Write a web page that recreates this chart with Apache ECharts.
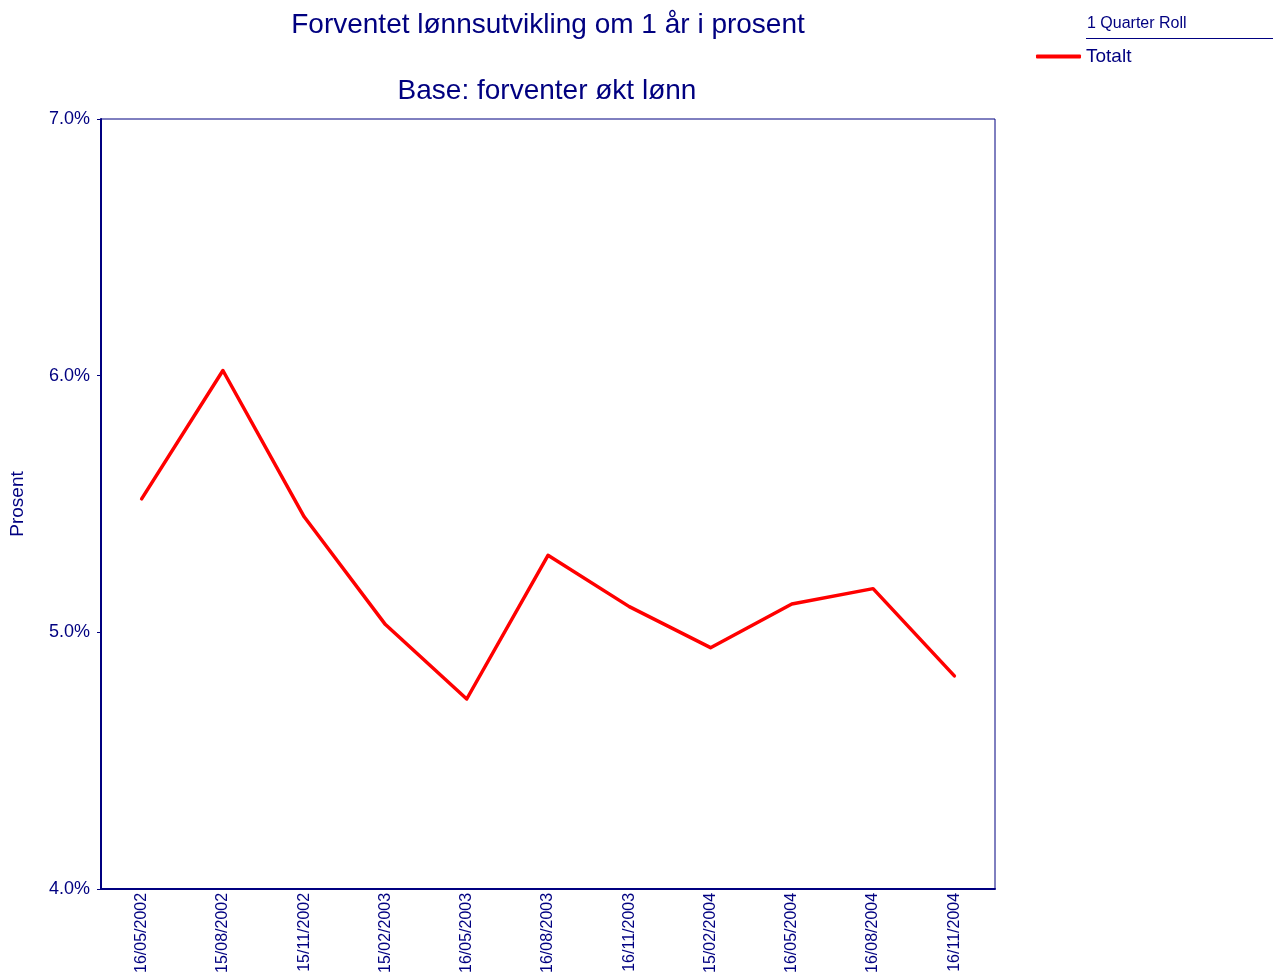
<!DOCTYPE html>
<html>
<head>
<meta charset="utf-8">
<title>Forventet lønnsutvikling</title>
<script src="https://cdn.jsdelivr.net/npm/echarts@6/dist/echarts.min.js"></script>
<style>
  html, body { margin: 0; padding: 0; background: #ffffff; }
  #chart { width: 1273px; height: 976px; }
</style>
</head>
<body>
<div id="chart"></div>
<script>
// Survey dates (quarterly waves)
const dates = [
  '16/05/2002', '15/08/2002', '15/11/2002', '15/02/2003', '16/05/2003',
  '16/08/2003', '16/11/2003', '15/02/2004', '16/05/2004', '16/08/2004', '16/11/2004'
];

// Expected wage growth, percent (Totalt)
const totalt = [5.52, 6.02, 5.45, 5.03, 4.74, 5.30, 5.10, 4.94, 5.11, 5.17, 4.83];

const titleText = 'Forventet lønnsutvikling om 1 år i prosent';
const subtitleText = 'Base: forventer økt lønn';
const seriesName = 'Totalt';
const legendHeader = '1 Quarter Roll';

const navy = '#000080';
const font = '"Liberation Sans", Arial, sans-serif';

const chart = echarts.init(document.getElementById('chart'), null, { renderer: 'canvas' });

chart.setOption({
  backgroundColor: '#ffffff',
  animation: false,
  title: [
    {
      text: titleText,
      left: 543, top: 6, textAlign: 'center',
      textStyle: { color: navy, fontFamily: font, fontSize: 28, fontWeight: 'normal' }
    },
    {
      text: subtitleText,
      left: 542, top: 72, textAlign: 'center',
      textStyle: { color: navy, fontFamily: font, fontSize: 28, fontWeight: 'normal' }
    }
  ],
  legend: {
    left: 1031, top: 42,
    orient: 'vertical',
    icon: 'roundRect',
    itemWidth: 45, itemHeight: 4,
    data: [seriesName],
    textStyle: { color: navy, fontFamily: font, fontSize: 19 }
  },
  graphic: [
    {
      type: 'text', left: 1087, top: 16,
      style: { text: legendHeader, fill: navy, font: '16px ' + font }
    },
    {
      type: 'line',
      shape: { x1: 1086, y1: 38.5, x2: 1273, y2: 38.5 },
      style: { stroke: navy, lineWidth: 1 }
    }
  ],
  grid: {
    left: 101, top: 119, right: 278, bottom: 87,
    show: true, borderColor: navy, borderWidth: 1,
    containLabel: false
  },
  xAxis: {
    type: 'category',
    data: dates,
    boundaryGap: true,
    axisLine: { lineStyle: { color: navy, width: 2 } },
    axisTick: { alignWithLabel: true, length: 5, lineStyle: { color: navy, width: 1 } },
    axisLabel: {
      rotate: 90, interval: 0, margin: 4,
      color: navy, fontFamily: font, fontSize: 16
    },
    splitLine: { show: false }
  },
  yAxis: {
    type: 'value',
    min: 4, max: 7, interval: 1,
    name: 'Prosent',
    nameLocation: 'middle',
    nameGap: 74,
    nameRotate: 90,
    nameTextStyle: { color: navy, fontFamily: font, fontSize: 19 },
    axisLine: { show: true, lineStyle: { color: navy, width: 2 } },
    axisTick: { show: true, length: 4, lineStyle: { color: navy, width: 1 } },
    axisLabel: {
      margin: 11, color: navy, fontFamily: font, fontSize: 18,
      formatter: v => v.toFixed(1) + '%'
    },
    splitLine: { show: false }
  },
  series: [
    {
      name: seriesName,
      type: 'line',
      data: totalt,
      showSymbol: false,
      symbol: 'circle',
      color: '#ff0000',
      lineStyle: { color: '#ff0000', width: 3.5, cap: 'round', join: 'round' },
      emphasis: { disabled: true }
    }
  ]
});
</script>
</body>
</html>
